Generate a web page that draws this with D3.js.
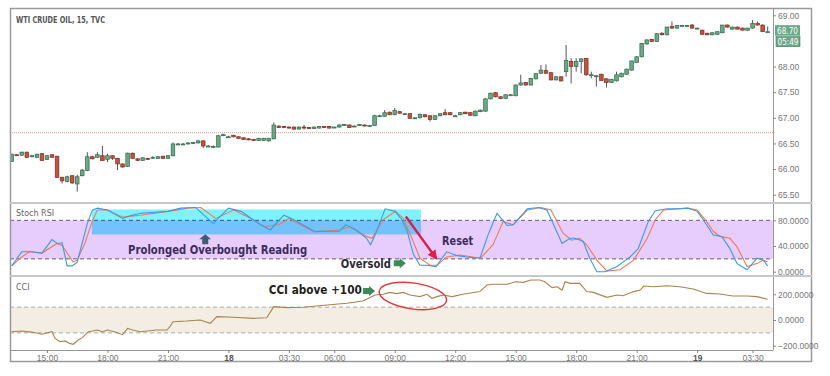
<!DOCTYPE html>
<html>
<head>
<meta charset="utf-8">
<script src="https://cdn.jsdelivr.net/npm/d3@7.9.0/dist/d3.min.js"></script>
<style>
  body { margin: 0; background: #fff; }
  svg { display: block; font-family: "DejaVu Sans", Verdana, sans-serif; }
  .axis text { fill: #777; font-size: 8.5px; }
  .axis line { stroke: #888; }
  .axis path { display: none; }
</style>
</head>
<body>
<svg id="chart" width="830" height="376"></svg>
<script>
// 15 min bars, [open, high, low, close]
const candles = [
  [66.15,66.30,66.14,66.29],[66.28,66.29,66.26,66.27],[66.27,66.34,66.26,66.33],[66.33,66.34,66.21,66.23],
  [66.26,66.28,66.23,66.26],[66.23,66.30,66.22,66.29],[66.30,66.31,66.16,66.17],[66.19,66.27,66.18,66.26],
  [66.28,66.29,66.22,66.23],[66.25,66.26,65.83,65.84],[65.84,65.85,65.72,65.77],[65.76,65.87,65.74,65.85],
  [65.87,65.88,65.71,65.73],[65.71,65.89,65.56,65.85],[65.87,66.00,65.86,65.98],[65.97,66.33,65.96,66.24],
  [66.24,66.26,66.19,66.20],[66.23,66.33,66.22,66.28],[66.26,66.45,66.16,66.17],[66.19,66.30,66.14,66.26],
  [66.26,66.27,66.18,66.21],[66.21,66.22,65.98,66.10],[66.10,66.11,66.03,66.04],[66.05,66.32,66.04,66.31],
  [66.31,66.32,66.20,66.21],[66.20,66.21,66.16,66.17],[66.17,66.23,66.16,66.22],[66.21,66.22,66.18,66.19],
  [66.22,66.25,66.20,66.23],[66.21,66.25,66.20,66.24],[66.25,66.26,66.20,66.21],[66.21,66.27,66.20,66.26],
  [66.26,66.52,66.25,66.49],[66.49,66.51,66.47,66.49],[66.49,66.51,66.47,66.49],[66.49,66.52,66.48,66.51],
  [66.50,66.53,66.49,66.52],[66.51,66.56,66.50,66.55],[66.55,66.56,66.41,66.45],[66.45,66.47,66.43,66.45],
  [66.44,66.46,66.42,66.44],[66.43,66.67,66.42,66.65],[66.67,66.69,66.65,66.67],[66.63,66.65,66.61,66.63],
  [66.66,66.67,66.62,66.63],[66.63,66.64,66.59,66.60],[66.61,66.62,66.57,66.58],[66.59,66.60,66.56,66.57],
  [66.58,66.59,66.55,66.56],[66.56,66.61,66.55,66.60],[66.56,66.61,66.55,66.60],[66.55,66.61,66.54,66.60],
  [66.59,66.91,66.58,66.86],[66.84,66.85,66.80,66.81],[66.83,66.84,66.80,66.81],[66.82,66.83,66.79,66.80],
  [66.82,66.83,66.77,66.78],[66.78,66.83,66.77,66.82],[66.82,66.86,66.77,66.80],[66.81,66.82,66.79,66.79],
  [66.79,66.83,66.78,66.82],[66.80,66.84,66.79,66.83],[66.83,66.84,66.80,66.81],[66.83,66.84,66.79,66.80],
  [66.82,66.83,66.81,66.82],[66.82,66.87,66.81,66.86],[66.85,66.88,66.84,66.87],[66.86,66.87,66.80,66.81],
  [66.84,66.85,66.82,66.84],[66.85,66.88,66.84,66.87],[66.86,66.87,66.83,66.84],[66.85,66.86,66.84,66.85],
  [66.85,67.06,66.84,67.04],[67.04,67.06,67.02,67.04],[67.03,67.15,67.02,67.10],[67.11,67.12,67.05,67.06],
  [67.06,67.19,67.05,67.14],[67.12,67.13,67.08,67.09],[67.08,67.09,67.06,67.08],[67.08,67.09,66.98,66.99],
  [67.00,67.01,66.98,67.00],[67.00,67.08,66.99,67.07],[67.06,67.07,67.01,67.02],[67.04,67.05,66.93,66.97],
  [66.97,67.05,66.96,67.04],[67.04,67.09,67.03,67.08],[67.10,67.17,67.05,67.06],[67.10,67.11,67.05,67.06],
  [67.04,67.06,67.03,67.04],[67.06,67.11,67.05,67.10],[67.11,67.12,67.07,67.08],[67.10,67.11,67.04,67.05],
  [67.04,67.14,67.03,67.13],[67.12,67.16,67.11,67.15],[67.13,67.38,67.12,67.37],[67.37,67.49,67.36,67.48],
  [67.49,67.50,67.40,67.41],[67.41,67.42,67.37,67.38],[67.38,67.46,67.37,67.45],[67.45,67.46,67.44,67.45],
  [67.43,67.65,67.42,67.64],[67.64,67.84,67.63,67.68],[67.69,67.70,67.63,67.64],[67.64,67.78,67.63,67.77],
  [67.76,67.87,67.75,67.86],[67.87,68.03,67.86,67.93],[67.92,68.04,67.86,67.87],[67.88,67.89,67.73,67.74],
  [67.74,67.81,67.73,67.80],[67.80,67.81,67.71,67.72],[67.90,68.42,67.80,68.12],[68.10,68.16,67.67,68.00],
  [68.00,68.16,67.90,68.10],[68.10,68.16,67.87,68.15],[68.16,68.17,67.82,67.84],[67.84,67.90,67.77,67.84],
  [67.82,67.83,67.61,67.82],[67.85,67.86,67.72,67.73],[67.76,67.77,67.59,67.69],[67.69,67.76,67.68,67.75],
  [67.72,67.90,67.71,67.84],[67.80,67.88,67.79,67.87],[67.85,67.96,67.84,67.95],[67.93,68.11,67.92,68.11],
  [68.08,68.20,68.07,68.19],[68.19,68.46,68.18,68.45],[68.44,68.53,68.43,68.52],[68.53,68.54,68.48,68.49],
  [68.49,68.65,68.48,68.64],[68.65,68.67,68.61,68.62],[68.62,68.78,68.61,68.77],[68.78,68.88,68.74,68.75],
  [68.75,68.81,68.74,68.80],[68.80,68.81,68.79,68.80],[68.80,68.81,68.79,68.80],[68.81,68.83,68.74,68.75],
  [68.75,68.76,68.74,68.75],[68.71,68.72,68.62,68.63],[68.65,68.66,68.61,68.62],[68.62,68.66,68.61,68.66],
  [68.63,68.68,68.62,68.68],[68.66,68.81,68.65,68.81],[68.81,68.82,68.76,68.77],[68.73,68.78,68.72,68.77],
  [68.77,68.78,68.73,68.73],[68.75,68.76,68.71,68.71],[68.71,68.75,68.70,68.75],[68.75,68.91,68.74,68.84],
  [68.84,68.88,68.80,68.81],[68.81,68.82,68.68,68.68],[68.68,68.78,68.68,68.68]
];

// [bar index, value]
const stochK = [[0,9],[2,31],[4,31],[6,29],[8,50],[9,44],[10,45],[11,9],[12,9],[13,15],[15,75],[16,96],[17,99],
  [19,96],[22,83],[23.5,87],[25.5,91],[31,94],[33.5,99],[36.5,100],[40,75],[43,99],[45.5,94],[49,75],[51.3,65],
  [54,88],[56,81],[60,63],[65,63],[66.3,73],[68.4,65],[70.4,52],[71.2,42],[72.1,57],[74.1,98],[76.1,94],[77.4,81],
  [78.4,65],[79.7,27],[81,10],[82.4,10],[84.2,8],[86.3,31],[88.4,25],[90.3,23],[92.9,21],[94.5,57],[96.3,91],
  [98.3,72],[99.5,73],[102.3,98],[104.5,100],[106.2,96],[109.2,44],[110.8,52],[111.8,52],[113.4,47],[114.7,21],
  [116.1,0],[117.7,0],[120.1,8],[122.7,23],[124.3,36],[126.3,78],[127.7,95],[130,98],[132.6,98],[134.2,99],
  [136,94],[137.2,81],[139.2,57],[140.9,55],[142.5,36],[143.9,13],[145.9,3],[147.9,21],[149.1,18],[150,9]];
const stochD = [[0,9],[2,23],[3.5,31],[6,29],[9,44],[10,41],[12.2,15],[13,18],[14.5,44],[16,79],[17,96],[19,96],
  [22,85],[25.5,88],[31,94],[35,99],[37.5,100],[40.5,83],[44,96],[47.5,83],[50,70],[53,73],[55,83],[60,62],
  [65,65],[67,70],[70.4,55],[71.5,52],[73.7,81],[76.1,94],[77.7,83],[79.4,52],[81,21],[83,10],[84.4,10],[86.3,23],
  [89,26],[93,21],[95.5,42],[97.5,78],[99.5,73],[102.3,96],[105,100],[107,96],[109.4,60],[111.1,49],[112.7,52],
  [114.1,42],[116.1,18],[118.1,1],[120.7,3],[123.4,18],[126.1,52],[127.7,81],[129.3,96],[134,99],[136,96],
  [137.9,78],[139.2,63],[140.5,55],[142.5,52],[143.9,39],[145.9,8],[148,13],[149.1,18],[150,15]];
const cci = [[0,-91],[2,-86],[4,-94],[6,-111],[8,-91],[8.6,-143],[9.6,-169],[10.6,-163],[11.5,-182],[12.2,-189],
  [13.2,-156],[14,-137],[15.2,-91],[16,-86],[17,-78],[18,-91],[19,-78],[20.5,-94],[22,-114],[23,-65],[24,-78],
  [25.5,-91],[28.8,-78],[30.8,-78],[31.4,-52],[32,-13],[34.7,-8],[37.4,0],[39.4,-26],[40.7,26],[44,21],[48,13],
  [50.6,18],[52,104],[54.6,96],[57.8,99],[62.6,117],[66.5,130],[69.7,148],[72.1,195],[73.7,200],[75,215],
  [76.4,205],[77.7,215],[79,195],[81,182],[82.4,200],[83.4,169],[84.4,182],[85.6,195],[87.4,182],[89.5,200],
  [92.9,221],[94.3,272],[95.5,278],[98.3,278],[100,298],[101.5,293],[103,311],[104.8,311],[105.8,298],
  [107.2,252],[108.2,259],[109.2,233],[109.8,298],[110.8,285],[112.7,285],[114.1,221],[115.4,215],[118.1,176],
  [120.1,195],[121.3,189],[123.4,221],[124.7,233],[125.4,264],[127.3,259],[130,267],[132.6,259],[135.2,241],
  [137.9,207],[140.5,202],[143.1,187],[145.9,187],[147.9,182],[150,161]];

const priceTicks = [69, 68, 67.5, 67, 66.5, 66, 65.5];
const stochTicks = [80, 40, 0];
const stochBand = [20, 80];
const cciTicks = [200, 0, -200];
const cciBand = [-100, 100];
const timeTicks = [7, 19, 31, 43, 55, 64, 76, 88, 100, 112, 124, 136, 147];
const timeLabels = ['15:00', '18:00', '21:00', '18', '03:30', '06:00', '09:00', '12:00', '15:00', '18:00', '21:00', '19', '03:30'];
const prevClose = 66.71;
const lastPrice = 68.70;
const countdown = '05:49';

const svg = d3.select('#chart');
const L = 10, R = 773, OUTR = 812;
const P = { top: 8, bottom: 203 }, S = { top: 203, bottom: 276 }, C = { top: 276, bottom: 350 };

const x = d3.scaleLinear().domain([0, 150]).range([11.7, 767.7]);
const yP = d3.scaleLinear().domain([65.5, 69]).range([194.7, 15.3]);
const yS = d3.scaleLinear().domain([0, 100]).range([271.7, 207.5]);
const yC = d3.scaleLinear().domain([-200, 200]).range([345.7, 294.3]);

const defs = svg.append('defs');
[['clipP', P], ['clipS', S], ['clipC', C]].forEach(([id, p]) => {
  defs.append('clipPath').attr('id', id).append('rect')
    .attr('x', L).attr('y', p.top).attr('width', R - L).attr('height', p.bottom - p.top);
});

// ---- price panel
const gp = svg.append('g').attr('clip-path', 'url(#clipP)');
gp.append('line').attr('x1', L).attr('x2', R).attr('y1', yP(prevClose)).attr('y2', yP(prevClose))
  .attr('stroke', '#e0a08c').attr('stroke-dasharray', '1,1');

const bw = 3.6;
gp.selectAll('line.wick').data(candles).join('line').attr('class', 'wick')
  .attr('x1', (d, i) => x(i)).attr('x2', (d, i) => x(i))
  .attr('y1', d => yP(d[1])).attr('y2', d => yP(d[2]))
  .attr('stroke', '#555').attr('stroke-width', 1);
gp.selectAll('rect.body').data(candles).join('rect').attr('class', 'body')
  .attr('x', (d, i) => x(i) - bw / 2).attr('width', bw)
  .attr('y', d => yP(Math.max(d[0], d[3])))
  .attr('height', d => Math.max(1, Math.abs(yP(d[0]) - yP(d[3]))))
  .attr('fill', d => d[3] >= d[0] ? '#6aa987' : '#c4523f')
  .attr('stroke', d => d[3] >= d[0] ? '#2f6a4c' : '#7e2c22').attr('stroke-width', 0.7);

svg.append('text').attr('x', 16).attr('y', 23).text('WTI CRUDE OIL, 15, TVC')
  .attr('font-size', 8).attr('font-weight', 'bold').attr('fill', '#555')
  .attr('textLength', 89).attr('lengthAdjust', 'spacingAndGlyphs');

// ---- stoch rsi panel
const gs = svg.append('g').attr('clip-path', 'url(#clipS)');
gs.append('rect').attr('x', L).attr('width', R - L)
  .attr('y', yS(stochBand[1])).attr('height', yS(stochBand[0]) - yS(stochBand[1])).attr('fill', '#e6cdfd');
stochBand.forEach(v => gs.append('line').attr('x1', L).attr('x2', R).attr('y1', yS(v)).attr('y2', yS(v))
  .attr('stroke', '#6a5a7a').attr('stroke-dasharray', '4,3'));
// overbought highlight
gs.append('rect').attr('x', x(15.9)).attr('width', x(81.2) - x(15.9))
  .attr('y', yS(97)).attr('height', yS(58) - yS(97))
  .attr('fill', '#7ef3ff').style('mix-blend-mode', 'multiply');
const line = d3.line().x(d => x(d[0])).y(d => yS(d[1]));
gs.append('path').datum(stochD).attr('d', line).attr('fill', 'none').attr('stroke', '#ec7d52').attr('stroke-width', 1.1);
gs.append('path').datum(stochK).attr('d', line).attr('fill', 'none').attr('stroke', '#3b9ae8').attr('stroke-width', 1.1);
svg.append('text').attr('x', 16).attr('y', 216).text('Stoch RSI').attr('font-size', 8).attr('fill', '#666');

// ---- cci panel
const gc = svg.append('g').attr('clip-path', 'url(#clipC)');
gc.append('rect').attr('x', L).attr('width', R - L)
  .attr('y', yC(cciBand[1])).attr('height', yC(cciBand[0]) - yC(cciBand[1])).attr('fill', '#f3ede3');
cciBand.forEach(v => gc.append('line').attr('x1', L).attr('x2', R).attr('y1', yC(v)).attr('y2', yC(v))
  .attr('stroke', '#aaa').attr('stroke-dasharray', '4,3'));
const cline = d3.line().x(d => x(d[0])).y(d => yC(d[1]));
gc.append('path').datum(cci).attr('d', cline).attr('fill', 'none').attr('stroke', '#a8844f').attr('stroke-width', 1.1);
svg.append('text').attr('x', 16).attr('y', 290).text('CCI').attr('font-size', 8).attr('fill', '#666');

// ---- frames
svg.append('rect').attr('x', L + 0.5).attr('y', 8.5).attr('width', OUTR - L - 1).attr('height', 353)
  .attr('fill', 'none').attr('stroke', '#9a9a9a').attr('stroke-width', 1.5);
svg.append('line').attr('x1', R + 0.5).attr('x2', R + 0.5).attr('y1', 8).attr('y2', 350).attr('stroke', '#999');
[P.bottom, S.bottom].forEach(y => svg.append('line').attr('x1', L).attr('x2', OUTR).attr('y1', y).attr('y2', y)
  .attr('stroke', '#c8c8c8').attr('stroke-width', 2));
svg.append('line').attr('x1', L).attr('x2', R).attr('y1', C.bottom + 0.5).attr('y2', C.bottom + 0.5).attr('stroke', '#999');

// ---- axes
svg.append('g').attr('class', 'axis').attr('transform', `translate(${R},0)`)
  .call(d3.axisRight(yP).tickValues(priceTicks).tickFormat(d3.format('.2f')).tickSize(3).tickPadding(2));
svg.append('g').attr('class', 'axis').attr('transform', `translate(${R},0)`)
  .call(d3.axisRight(yS).tickValues(stochTicks).tickFormat(d3.format('.4f')).tickSize(3).tickPadding(2));
svg.append('g').attr('class', 'axis').attr('transform', `translate(${R},0)`)
  .call(d3.axisRight(yC).tickValues(cciTicks).tickFormat(d3.format('.4f')).tickSize(3).tickPadding(2));
const xa = svg.append('g').attr('class', 'axis').attr('transform', `translate(0,${C.bottom})`)
  .call(d3.axisBottom(x).tickValues(timeTicks).tickFormat((d, i) => timeLabels[i]).tickSize(3).tickPadding(2));
xa.selectAll('text').filter((d, i) => timeLabels[i].length < 3).attr('font-weight', 'bold').style('fill', '#555');

// price labels
const tagG = svg.append('g');
tagG.append('rect').attr('x', R + 2).attr('y', yP(lastPrice) - 5.5).attr('width', 25).attr('height', 10.5).attr('fill', '#6aa987');
tagG.append('text').attr('x', R + 4).attr('y', yP(lastPrice) + 3).text(d3.format('.2f')(lastPrice))
  .attr('font-size', 8).attr('fill', '#fff').attr('textLength', 21).attr('lengthAdjust', 'spacingAndGlyphs');
tagG.append('rect').attr('x', R + 3).attr('y', yP(lastPrice) + 6).attr('width', 24).attr('height', 10)
  .attr('fill', '#6aa987').attr('stroke', '#3f7f5f').attr('stroke-width', 0.6);
tagG.append('text').attr('x', R + 4.5).attr('y', yP(lastPrice) + 14.3).text(countdown)
  .attr('font-size', 8).attr('fill', '#fff').attr('textLength', 21).attr('lengthAdjust', 'spacingAndGlyphs');

// ---- annotations
const ann = svg.append('g').attr('font-weight', 'bold');
const upArrow = 'M0,-5 L6,0 L3,0 L3,5 L-3,5 L-3,0 L-6,0 Z';
const rightArrow = 'M6,0 L0,-5 L0,-3 L-6,-3 L-6,3 L0,3 L0,5 Z';
ann.append('path').attr('d', upArrow).attr('transform', `translate(${x(38.4)},${yS(50.5)})`).attr('fill', '#3d5d78');
ann.append('text').attr('x', x(23.1)).attr('y', yS(27)).text('Prolonged Overbought Reading')
  .attr('font-size', 12).attr('fill', '#3b2c5c').attr('textLength', 179).attr('lengthAdjust', 'spacingAndGlyphs');
ann.append('text').attr('x', x(65.3)).attr('y', yS(6.3)).text('Oversold')
  .attr('font-size', 11.5).attr('fill', '#2b2b38').attr('textLength', 50).attr('lengthAdjust', 'spacingAndGlyphs');
ann.append('path').attr('d', rightArrow).attr('transform', `translate(${x(77)},${yS(13)})`).attr('fill', '#3c8a5c');
ann.append('text').attr('x', x(85.4)).attr('y', yS(41)).text('Reset')
  .attr('font-size', 11.5).attr('fill', '#3b2c5c').attr('textLength', 31).attr('lengthAdjust', 'spacingAndGlyphs');
defs.append('marker').attr('id', 'redHead').attr('viewBox', '0 0 10 10').attr('refX', 8).attr('refY', 5)
  .attr('markerWidth', 4).attr('markerHeight', 4).attr('orient', 'auto')
  .append('path').attr('d', 'M0,0 L10,5 L0,10 Z').attr('fill', '#e11d48');
ann.append('line').attr('x1', x(78.2)).attr('y1', yS(86)).attr('x2', x(84.2)).attr('y2', yS(21))
  .attr('stroke', '#e11d48').attr('stroke-width', 2.4).attr('marker-end', 'url(#redHead)');
ann.append('text').attr('x', x(51)).attr('y', yC(200)).text('CCI above +100')
  .attr('font-size', 11.5).attr('fill', '#1e1e1e').attr('textLength', 93).attr('lengthAdjust', 'spacingAndGlyphs');
ann.append('path').attr('d', rightArrow).attr('transform', `translate(${x(70.9)},${yC(226)})`).attr('fill', '#3c8a5c');
ann.append('ellipse').attr('cx', x(79.6)).attr('cy', yC(187)).attr('rx', 34).attr('ry', 13)
  .attr('transform', `rotate(8,${x(79.6)},${yC(187)})`)
  .attr('fill', 'none').attr('stroke', '#e23a3a').attr('stroke-width', 1.4);
</script>
</body>
</html>
